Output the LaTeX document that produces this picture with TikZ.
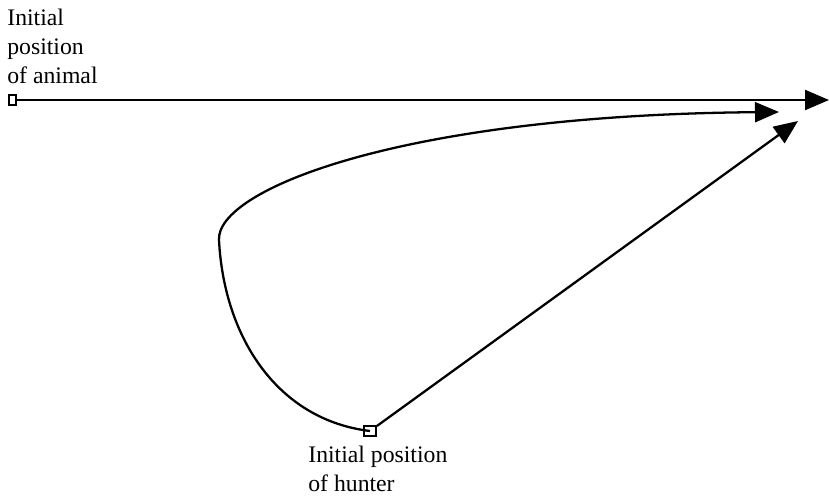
\documentclass[tikz,border=0pt]{standalone}
\usepackage{fontspec}
\setmainfont{Liberation Serif}
\usetikzlibrary{arrows.meta}

\begin{document}
\begin{tikzpicture}[
			x=0.02cm, y=-0.02cm,
			marker/.style={
				draw,
				line width=1.1pt,
				inner sep=0pt,
				fill=none
			},
			path line/.style={
				line width=1.3pt,
				-{Triangle[length=0.48cm, width=0.4cm]}
			},
			label text/.style={
				align=left,
				inner sep=0pt,
				anchor=north west,
				font=\fontsize{13.5}{16.4}\selectfont
			}
			]
			
			\useasboundingbox (0,0) rectangle (829,497);
			
			\node[label text] (animal label) at (7,9) {Initial\\position\\of animal};
			\node[marker, minimum width=0.14cm, minimum height=0.2cm] (animal) at (12.5,100) {};
			\coordinate (animal end) at (829,100);
			
			\node[marker, minimum width=0.24cm, minimum height=0.2cm] (hunter) at (370,431) {};
			\node[label text] (hunter label) at (308,446) {Initial position\\of hunter};
			\coordinate (curve end) at (779,112);
			\coordinate (straight end) at (798,121);
			
			\draw[path line] (animal) -- (animal end);
			\draw[path line] (hunter.center) .. controls (278,420) and (224,338) .. (219,240)
				.. controls (216,190) and (400,115) .. (curve end);
			\draw[path line] (hunter) -- (straight end);
			
		\end{tikzpicture}
\end{document}
